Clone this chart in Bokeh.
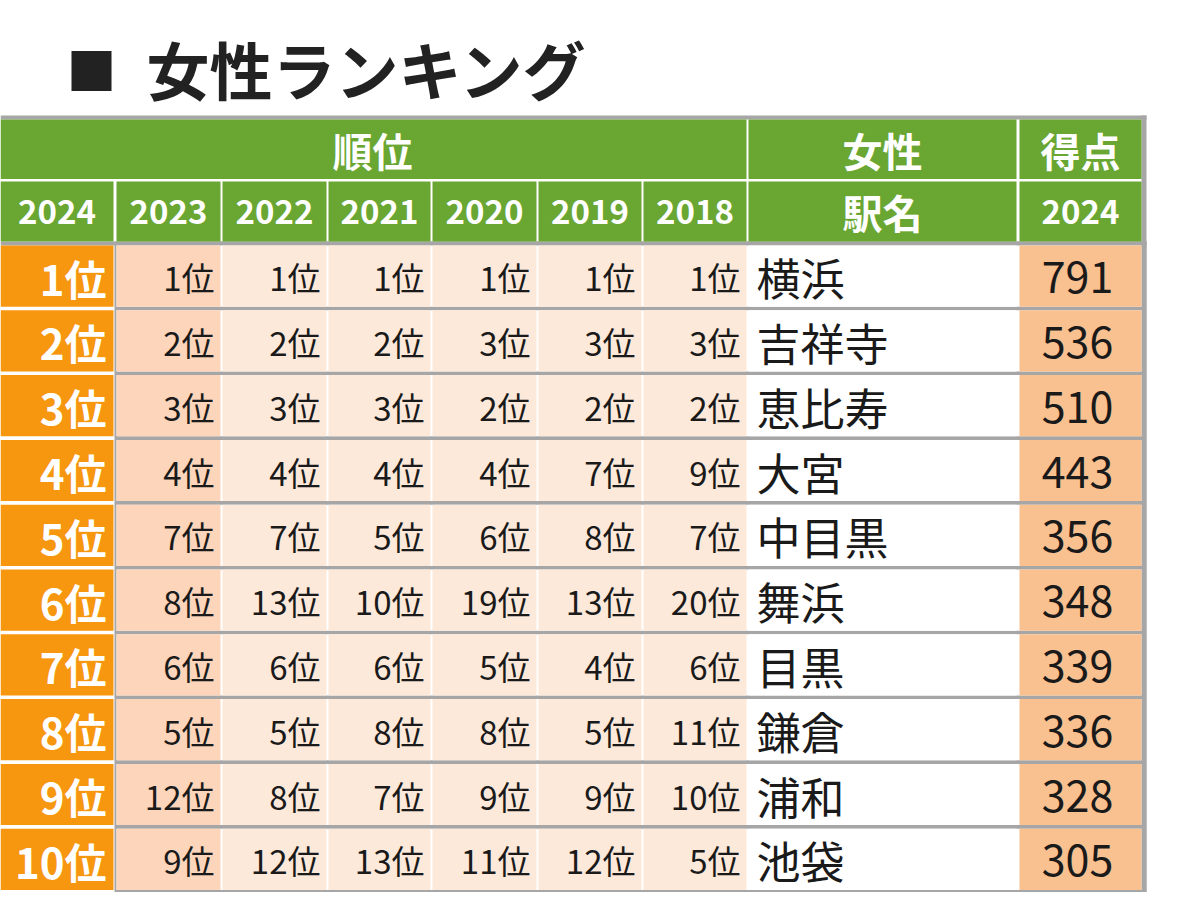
from bokeh.plotting import figure
from bokeh.models import Range1d
from bokeh.core.properties import value
from bokeh.embed import file_html
from bokeh.resources import INLINE

# ---------------- data ----------------
title_mark = "■"
title_text = "女性ランキング"
header_rank = "順位"
header_gender = "女性"
header_station = "駅名"
header_score = "得点"
years = ["2024", "2023", "2022", "2021", "2020", "2019", "2018"]
score_year = "2024"

rank_2024 = [1, 2, 3, 4, 5, 6, 7, 8, 9, 10]
rank_2023 = [1, 2, 3, 4, 7, 8, 6, 5, 12, 9]
rank_2022 = [1, 2, 3, 4, 7, 13, 6, 5, 8, 12]
rank_2021 = [1, 2, 3, 4, 5, 10, 6, 8, 7, 13]
rank_2020 = [1, 3, 2, 4, 6, 19, 5, 8, 9, 11]
rank_2019 = [1, 3, 2, 7, 8, 13, 4, 5, 9, 12]
rank_2018 = [1, 3, 2, 9, 7, 20, 6, 11, 10, 5]
stations = ["横浜", "吉祥寺", "恵比寿", "大宮", "中目黒", "舞浜", "目黒", "鎌倉", "浦和", "池袋"]
scores = [791, 536, 510, 443, 356, 348, 339, 336, 328, 305]

past_ranks = [rank_2023, rank_2022, rank_2021, rank_2020, rank_2019, rank_2018]

# ---------------- style / layout ----------------
FONT = "Noto Sans CJK JP"
GREEN = "#6aa632"
ORANGE = "#f7960f"
PEACH_DARK = "#fcd5bb"
PEACH = "#fde9da"
SCORE_BG = "#f9c090"
GRAY = "#a6a6a6"
INK = "#1a1a1a"

W, H = 1190, 892
p = figure(width=W, height=H, x_range=Range1d(0, W), y_range=Range1d(H, 0),
           output_backend="svg", toolbar_location=None, min_border=0,
           x_axis_type=None, y_axis_type=None)
p.grid.visible = False
p.outline_line_color = None
p.background_fill_color = "white"
p.border_fill_color = "white"

col_left = [0, 116, 222, 328, 432, 538, 643, 748, 1019]
col_right = [113, 220, 326, 430, 536, 641, 746, 1016, 1141]
n_rows = len(stations)
ROW0 = 245.0
PITCH = 64.8
ROWH = 61.2

def rtop(i):
    return ROW0 + PITCH * i

# gray frame lines
p.quad(left=[0], right=[1146], top=[115], bottom=[119], fill_color=GRAY, line_color=None)
p.quad(left=[1141], right=[1146], top=[115], bottom=[900], fill_color=GRAY, line_color=None)
p.quad(left=[0], right=[1146], top=[241], bottom=[245], fill_color=GRAY, line_color=None)
# gray background for data area (rows separated by gray lines)
p.quad(left=[114], right=[1146], top=[241], bottom=[900], fill_color=GRAY, line_color=None)

# header cells
hl, hr, ht, hb, hc = [], [], [], [], []
for (l, r) in [(0, 746), (748, 1016), (1019, 1141)]:
    hl.append(l); hr.append(r); ht.append(119); hb.append(178.5); hc.append(GREEN)
for j in range(9):
    hl.append(col_left[j]); hr.append(col_right[j]); ht.append(181); hb.append(241); hc.append(GREEN)
p.quad(left=hl, right=hr, top=ht, bottom=hb, fill_color=hc, line_color=None)

# data rows: white band then coloured cells
bl, br, bt, bb = [], [], [], []
for i in range(n_rows):
    bl.append(116); br.append(1141); bt.append(rtop(i)); bb.append(rtop(i) + ROWH)
p.quad(left=bl, right=br, top=bt, bottom=bb, fill_color="white", line_color=None)

cl, cr, ct, cb, cc = [], [], [], [], []
col_colors = [ORANGE, PEACH_DARK, PEACH, PEACH, PEACH, PEACH, PEACH, "white", SCORE_BG]
for i in range(n_rows):
    for j in range(9):
        cl.append(col_left[j]); cr.append(col_right[j])
        ct.append(rtop(i)); cb.append(rtop(i) + ROWH)
        cc.append(col_colors[j])
p.quad(left=cl, right=cr, top=ct, bottom=cb, fill_color=cc, line_color=None)

# title
p.text(x=[91], y=[67], text=[title_mark], text_font=value(FONT), text_font_size="50px",
       text_align="center", text_baseline="middle", text_color="#222222")
p.text(x=[146], y=[67], text=[title_text], text_font=value(FONT), text_font_size="63px",
       text_font_style="bold", text_align="left", text_baseline="middle", text_color="#222222")

# header texts
p.text(x=[372, 882, 1080], y=[149, 149, 149], text=[header_rank, header_gender, header_score],
       text_font=value(FONT), text_font_size="40px", text_font_style="bold",
       text_align="center", text_baseline="middle", text_color="white")
hx = [(col_left[j] + col_right[j]) / 2 for j in range(7)] + [882, 1080]
htxt = years + [header_station, score_year]
hsz = ["33px"] * 7 + ["40px", "33px"]
p.text(x=hx, y=[211] * 9, text=htxt, text_font=value(FONT), text_font_size=hsz,
       text_font_style="bold", text_align="center", text_baseline="middle", text_color="white")

# rank 2024 column
ys = [rtop(i) + ROWH / 2 + 1 for i in range(n_rows)]
p.text(x=[106] * n_rows, y=ys, text=[f"{v}位" for v in rank_2024], text_font=value(FONT),
       text_font_size="42px", text_font_style="bold", text_align="right",
       text_baseline="middle", text_color="white")

# past rank columns
px, py, pt = [], [], []
for j, col in enumerate(past_ranks):
    for i, v in enumerate(col):
        px.append(col_right[j + 1] - 6); py.append(ys[i]); pt.append(f"{v}位")
p.text(x=px, y=py, text=pt, text_font=value(FONT), text_font_size="33px",
       text_align="right", text_baseline="middle", text_color=INK)

# station names
p.text(x=[756] * n_rows, y=ys, text=stations, text_font=value(FONT), text_font_size="44px",
       text_align="left", text_baseline="middle", text_color=INK)

# scores
p.text(x=[1077] * n_rows, y=ys, text=[str(s) for s in scores], text_font=value(FONT),
       text_font_size="43px", text_align="center", text_baseline="middle", text_color=INK)

open("out.html", "w").write(file_html(p, INLINE))
